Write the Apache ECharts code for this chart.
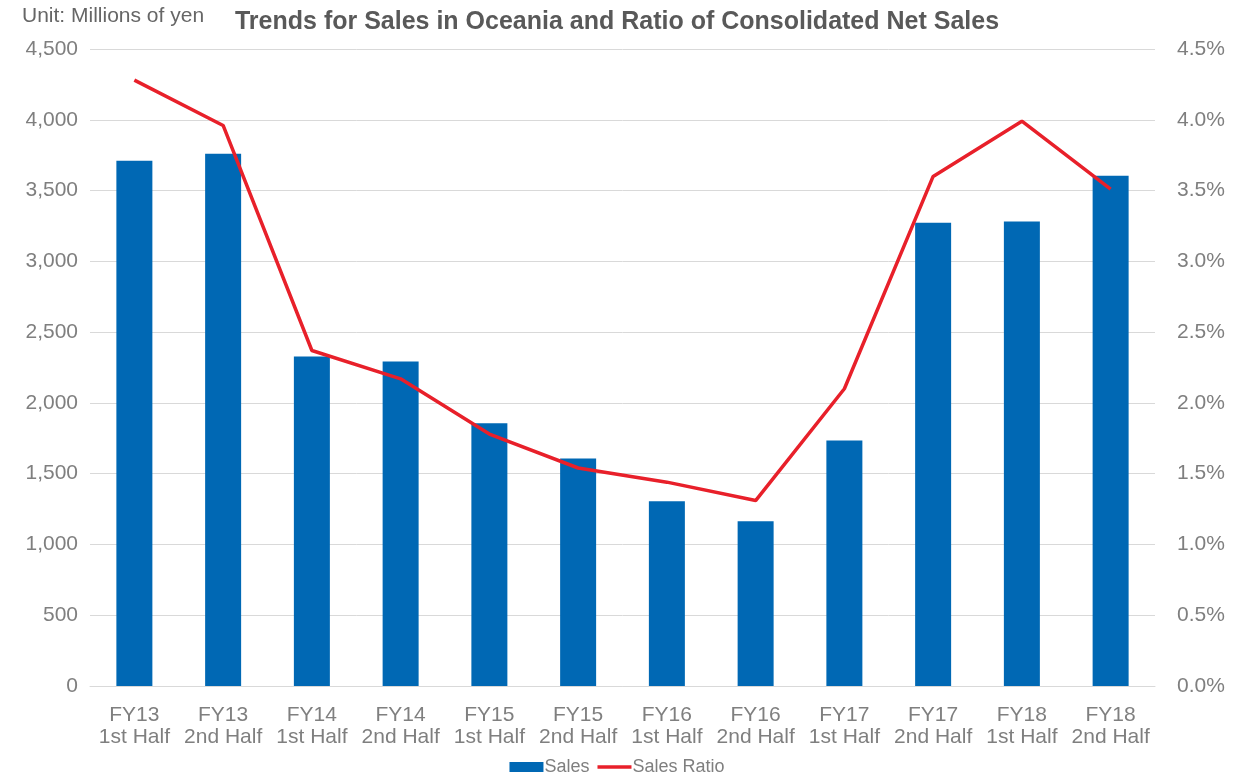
<!DOCTYPE html>
<html><head><meta charset="utf-8">
<script src="https://cdn.jsdelivr.net/npm/echarts@6/dist/echarts.min.js"></script>
<style>html,body{margin:0;padding:0;background:#fff}#c{width:1234px;height:776px}</style>
</head><body><div id="c"></div>
<script>
const categories = ["FY13\n1st Half","FY13\n2nd Half","FY14\n1st Half","FY14\n2nd Half","FY15\n1st Half","FY15\n2nd Half","FY16\n1st Half","FY16\n2nd Half","FY17\n1st Half","FY17\n2nd Half","FY18\n1st Half","FY18\n2nd Half"];
const sales = [3710, 3760, 2327, 2292, 1857, 1608, 1305, 1164, 1735, 3273, 3282, 3604];
const salesRatio = [4.28, 3.96, 2.37, 2.17, 1.78, 1.54, 1.44, 1.31, 2.10, 3.60, 3.99, 3.51];

const chart = echarts.init(document.getElementById('c'));
const F = 'Liberation Sans, Arial, sans-serif';
chart.setOption({
  animation: false,
  textStyle: {fontFamily: F},
  title: [
    {text: 'Trends for Sales in Oceania and Ratio of Consolidated Net Sales', left: 617, textAlign: 'center', top: 10, padding: 0,
     textStyle: {fontFamily: F, fontSize: 25, fontWeight: 'bold', color: '#595959'}},
    {text: 'Unit: Millions of yen', left: 22, top: 6, padding: 0, textStyle: {fontFamily: F, fontSize: 21, fontWeight: 'normal', color: '#666'}}
  ],
  legend: {
    bottom: -5, left: 'center',
    itemGap: 8, itemWidth: 34, itemHeight: 10,
    textStyle: {fontFamily: F, fontSize: 18, color: '#7f7f7f', padding: [0,0,0,-4]},
    data: [{name: 'Sales', icon: 'rect'}, {name: 'Sales Ratio', icon: 'path://M0,0 L40,0 L40,4 L0,4 Z'}]
  },
  grid: {left: 90, right: 79, top: 49, bottom: 90},
  xAxis: {
    type: 'category', data: categories,
    axisLine: {lineStyle: {color: '#d9d9d9', width: 1}},
    axisTick: {show: false},
    axisLabel: {fontFamily: F, fontSize: 21, color: '#7f7f7f', lineHeight: 22, margin: 18, interval: 0}
  },
  yAxis: [
    {type: 'value', min: 0, max: 4500, interval: 500,
     axisLine: {show: false}, axisTick: {show: false},
     splitLine: {lineStyle: {color: '#d9d9d9'}},
     axisLabel: {fontFamily: F, fontSize: 21, color: '#7f7f7f', margin: 12,
       formatter: v => v.toLocaleString('en-US')}},
    {type: 'value', min: 0, max: 4.5, interval: 0.5,
     axisLine: {show: false}, axisTick: {show: false}, splitLine: {show: false},
     axisLabel: {fontFamily: F, fontSize: 21, color: '#7f7f7f', margin: 22,
       formatter: v => v.toFixed(1) + '%'}}
  ],
  series: [
    {name: 'Sales', type: 'bar', data: sales, barWidth: 36, itemStyle: {color: '#0068b4'}},
    {name: 'Sales Ratio', type: 'line', yAxisIndex: 1, data: salesRatio, symbol: 'none',
     lineStyle: {color: '#e8202a', width: 3.5}, itemStyle: {color: '#e8202a'}}
  ]
});
</script></body></html>
